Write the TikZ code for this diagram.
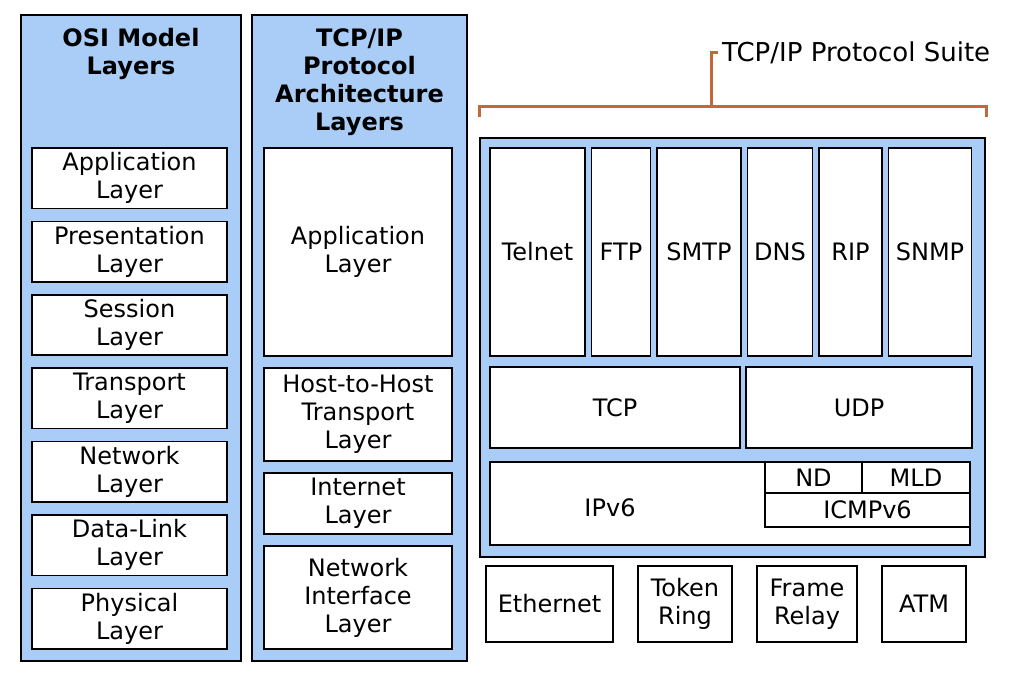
\documentclass[tikz,border=0pt]{standalone}
\usepackage{fontspec}
\setmainfont{DejaVu Sans}
\usetikzlibrary{positioning,calc}
\definecolor{layblue}{HTML}{A9CDF6}
\definecolor{suiteor}{HTML}{C2693A}
\newcommand{\lyr}{\fontsize{24}{28}\selectfont}
\tikzset{
  colbox/.style={rectangle, draw=black, line width=2pt, fill=layblue, anchor=north west, inner sep=0pt},
  lyrbox/.style={rectangle, draw=black, line width=1.7pt, fill=white, align=center, font=\lyr,
                 inner sep=0pt, outer sep=0pt, minimum height=#1},
  heading/.style={align=center, font=\lyr\bfseries, inner sep=0pt, anchor=north},
  brk/.style={draw=suiteor, line width=3pt},
}
\begin{document}
\begin{tikzpicture}[x=1pt, y=-1pt]
   \useasboundingbox (0,0) rectangle (1012,676);
   % OSI column
   \node[colbox, minimum width=220pt, minimum height=646pt] (osi) at (20,14) {};
   \node[heading] (osih) at ($(osi.north)+(0,14)$) {OSI Model\\Layers};
   \begin{scope}[node distance=13pt, every node/.style={minimum width=195pt}]
     \node[lyrbox=60.4pt, anchor=north west] (oapp) at (32,148) {Application\\Layer};
     \node[lyrbox=60.4pt, below=of oapp] (opres) {Presentation\\Layer};
     \node[lyrbox=60.4pt, below=of opres] (osess) {Session\\Layer};
     \node[lyrbox=60.4pt, below=of osess] (otrans) {Transport\\Layer};
     \node[lyrbox=60.4pt, below=of otrans] (onet) {Network\\Layer};
     \node[lyrbox=60.4pt, below=of onet] (olink) {Data-Link\\Layer};
     \node[lyrbox=60.4pt, below=of olink] (ophys) {Physical\\Layer};
   \end{scope}
   % TCP/IP architecture column
   \node[colbox, minimum width=215pt, minimum height=646pt] (arch) at (251,14) {};
   \node[heading] (archh) at ($(arch.north)+(0,14)$) {TCP/IP\\Protocol\\Architecture\\Layers};
   \begin{scope}[node distance=12pt, every node/.style={minimum width=188pt}]
     \node[lyrbox=208pt, anchor=north west] (tapp) at (264,148) {Application\\Layer};
     \node[lyrbox=93pt, below=of tapp] (thost) {Host-to-Host\\Transport\\Layer};
     \node[lyrbox=61pt, below=of thost] (tinet) {Internet\\Layer};
     \node[lyrbox=103pt, below=of tinet] (tnif) {Network\\Interface\\Layer};
   \end{scope}
   % protocol suite
   \node[colbox, minimum width=505pt, minimum height=419pt] (suite) at (479,137) {};
   \begin{scope}[node distance=6.5pt]
     \node[lyrbox=208pt, minimum width=95pt, anchor=north west] (telnet) at (490,148) {Telnet};
     \node[lyrbox=208pt, minimum width=59pt, right=of telnet] (ftp) {FTP};
     \node[lyrbox=208pt, minimum width=84pt, right=of ftp] (smtp) {SMTP};
     \node[lyrbox=208pt, minimum width=65pt, right=of smtp] (dns) {DNS};
     \node[lyrbox=208pt, minimum width=63pt, right=of dns] (rip) {RIP};
     \node[lyrbox=208pt, minimum width=83pt, right=of rip] (snmp) {SNMP};
   \end{scope}
   \node[lyrbox=81pt, minimum width=250pt, anchor=north west] (tcp) at (490,367) {TCP};
   \node[lyrbox=81pt, minimum width=226pt, right=6pt of tcp] (udp) {UDP};
   \node[lyrbox=83pt, minimum width=480pt, anchor=north west] (ipv6) at (490,462) {};
   \node[font=\lyr] (ipv6t) at (610,508) {IPv6};
   \node[lyrbox=31pt, minimum width=97pt, anchor=north west] (nd) at (765,462) {ND};
   \node[lyrbox=31pt, minimum width=108pt, right=0pt of nd] (mld) {MLD};
   \node[lyrbox=34pt, minimum width=205pt, anchor=north west] (icmp) at (nd.south west) {ICMPv6};
   % link technologies
   \begin{scope}[node distance=25pt]
     \node[lyrbox=76pt, minimum width=127pt, anchor=north west] (eth) at (486,566) {Ethernet};
     \node[lyrbox=76pt, minimum width=94pt, right=of eth] (tring) {Token\\Ring};
     \node[lyrbox=76pt, minimum width=100pt, right=of tring] (frelay) {Frame\\Relay};
     \node[lyrbox=76pt, minimum width=84pt, right=of frelay] (atm) {ATM};
   \end{scope}
   % bracket
   \node[font=\fontsize{26}{30}\selectfont, inner sep=2pt, anchor=west] (suitel) at (720,53) {TCP/IP Protocol Suite};
   \coordinate (bmid) at ($(suite.north)+(-21,-30)$);
   \draw[brk] ($(suite.north west)+(0,-20)$) |- ($(suite.north east)+(0,-30)$) -- ++(0,10);
   \draw[brk] (bmid) |- ($(suitel.west)+(-2,0)$);
\end{tikzpicture}
\end{document}
